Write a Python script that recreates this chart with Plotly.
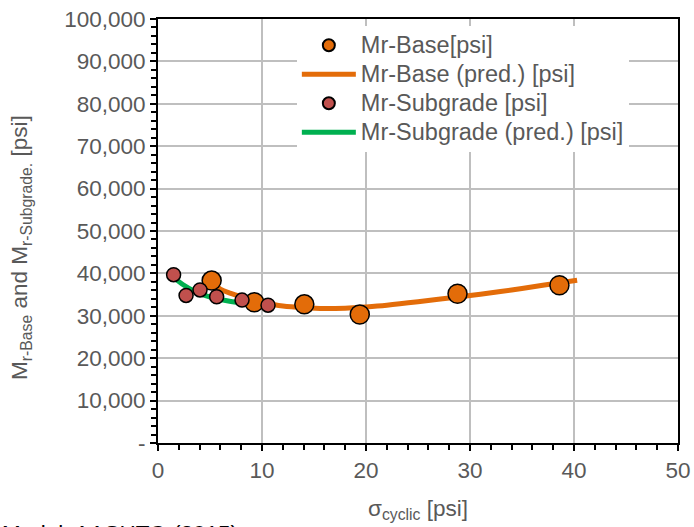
import plotly.graph_objects as go

# Data
base_x = [5.16, 9.26, 14.07, 19.4, 28.8, 38.6]
base_y = [38300, 33200, 32700, 30300, 35200, 37200]

sub_x = [1.5, 2.7, 4.04, 5.64, 8.08, 10.58]
sub_y = [39700, 34800, 36100, 34500, 33700, 32500]

base_pred_x = [5.2, 6, 7, 8, 9, 10, 11, 12, 14, 16, 18, 20, 22, 25, 28, 31, 34, 37, 40.3]
base_pred_y = [37800, 36300, 35300, 34500, 33800, 33200, 32700, 32300, 31900, 31700,
               31800, 32100, 32500, 33300, 34200, 35100, 36100, 37200, 38400]

sub_pred_x = [1.5, 2.5, 3.5, 4.5, 5.5, 6.5, 7.5, 8.5, 9.5, 10.5]
sub_pred_y = [39000, 37200, 35800, 34800, 34100, 33600, 33200, 32900, 32700, 32500]

y_tickvals = [0, 10000, 20000, 30000, 40000, 50000, 60000, 70000, 80000, 90000, 100000]
y_ticktext = ["-", "10,000", "20,000", "30,000", "40,000", "50,000", "60,000",
              "70,000", "80,000", "90,000", "100,000"]
x_tickvals = [0, 10, 20, 30, 40, 50]

ORANGE = "#E36C09"
RED = "#C0504D"
GREEN = "#00B050"
FONT = "Arial, Liberation Sans, sans-serif"
GRAY = "#595959"
FS = 22.5


def lg(name):
    return f"<span style='font-size:23.5px'>{name}</span>"


fig = go.Figure()
fig.add_trace(go.Scatter(x=sub_pred_x, y=sub_pred_y, mode="lines", name=lg("Mr-Subgrade (pred.) [psi]"),
                         line=dict(color=GREEN, width=5, shape="spline"), legendrank=4))
fig.add_trace(go.Scatter(x=base_pred_x, y=base_pred_y, mode="lines", name=lg("Mr-Base (pred.) [psi]"),
                         line=dict(color=ORANGE, width=5, shape="spline"), legendrank=2))
fig.add_trace(go.Scatter(x=base_x, y=base_y, mode="markers", name=lg("Mr-Base[psi]"),
                         marker=dict(color=ORANGE, size=19, line=dict(color="black", width=1.5)),
                         legendrank=1))
fig.add_trace(go.Scatter(x=sub_x, y=sub_y, mode="markers", name=lg("Mr-Subgrade [psi]"),
                         marker=dict(color=RED, size=14, line=dict(color="black", width=1.5)),
                         legendrank=3))

fig.update_layout(
    width=694, height=527,
    margin=dict(l=158, r=16, t=19, b=84),
    paper_bgcolor="white", plot_bgcolor="white",
    font=dict(family=FONT, size=FS, color=GRAY),
    showlegend=True,
    legend=dict(x=0.267, y=0.984, xanchor="left", yanchor="top", bgcolor="white",
                borderwidth=0, itemsizing="constant", itemwidth=54,
                tracegroupgap=0, font=dict(size=20, color=GRAY)),
    xaxis=dict(range=[0, 50], tickvals=x_tickvals, showgrid=True, gridcolor="#BFBFBF", gridwidth=1.5,
               showline=True, linecolor="black", linewidth=2, mirror=True, automargin=False,
               ticks="outside", ticklen=6, tickwidth=2, tickcolor="black",
               minor=dict(dtick=2, ticks="outside", ticklen=5, tickwidth=2, tickcolor="black", showgrid=False),
               zeroline=False, tickfont=dict(size=FS, color=GRAY),
               title=dict(text="σ<sub>cyclic</sub> [psi]", font=dict(size=FS, color=GRAY), standoff=18)),
    yaxis=dict(range=[0, 100000], tickvals=y_tickvals, ticktext=y_ticktext, showgrid=True,
               gridcolor="#BFBFBF", gridwidth=1.5, automargin=False,
               showline=True, linecolor="black", linewidth=2, mirror=True,
               ticks="outside", ticklen=6, tickwidth=2, tickcolor="black",
               minor=dict(dtick=2000, ticks="outside", ticklen=5, tickwidth=2, tickcolor="black", showgrid=False),
               zeroline=False, tickfont=dict(size=FS, color=GRAY)),
    annotations=[
        dict(text="M<sub>r-Base</sub> and M<sub>r-Subgrade.</sub> [psi]", textangle=-90,
             xref="paper", yref="paper", x=(21 - 158) / 520, y=(443 - 248) / 424,
             xanchor="center", yanchor="middle", showarrow=False,
             font=dict(size=FS, color=GRAY, family=FONT)),
        dict(text="Model: AASHTO (2015)", xref="paper", yref="paper",
             x=-158 / 520, y=-(519 - 443) / 424, xanchor="left", yanchor="top",
             showarrow=False, font=dict(size=FS, color="black", family=FONT)),
    ],
)

fig.write_html("out.html", config={"displayModeBar": False},
               post_script="document.body.style.margin='0';document.body.style.overflow='hidden';")
